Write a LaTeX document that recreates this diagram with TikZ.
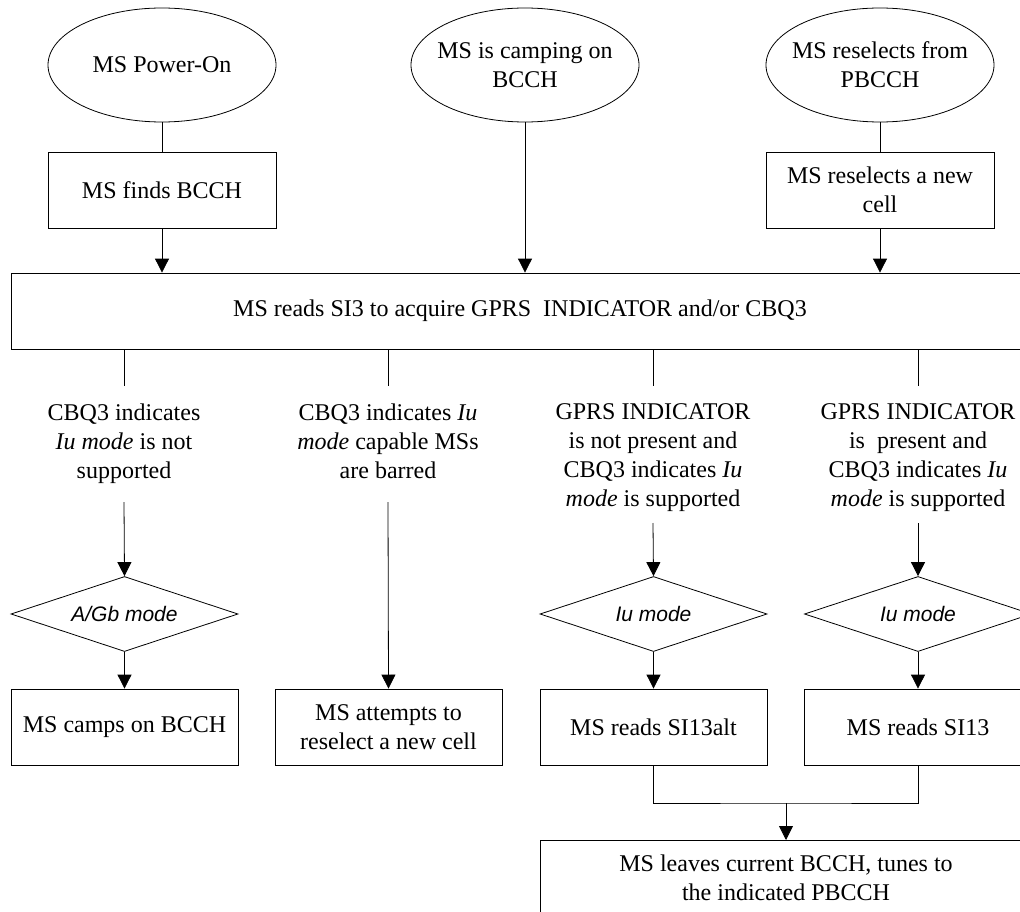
\documentclass[tikz,border=0pt]{standalone}
\usepackage{fontspec}
\setmainfont{Liberation Serif}
\newfontfamily\diafont{Liberation Sans}
\usetikzlibrary{shapes.geometric, arrows.meta}

\begin{document}
\begin{tikzpicture}[x=1pt, y=-1pt, line width=0.8pt,
    font=\fontsize{24}{29}\selectfont,
    start/.style={ellipse, draw, minimum width=228pt, minimum height=114pt, inner xsep=-8pt, inner ysep=0pt, align=center},
    box/.style={rectangle, draw, minimum width=227pt, minimum height=76pt, inner sep=0pt, align=center},
    cond/.style={anchor=north, inner xsep=0pt, inner ysep=17pt, align=center},
    mode/.style={diamond, draw, aspect=3.03, minimum width=227pt, minimum height=75pt, inner sep=0pt,
        font=\diafont\itshape\fontsize{21}{25}\selectfont},
    arr/.style={-{Triangle[length=14pt, width=14pt]}}]

    \useasboundingbox (0,0) rectangle (1020,912);
    \clip (0,0) rectangle (1020,912);

    % entry points
    \node[start] (on) at (162,65) {MS Power-On};
    \node[start] (camp) at (525,65) {MS is camping on\\BCCH};
    \node[start] (resel) at (880,65) {MS reselects from\\PBCCH};

    \node[box, minimum width=228pt] (find) at (162,190) {MS finds BCCH};
    \node[box, minimum width=228pt] (newcell) at (880,190) {MS reselects a new\\cell};

    \node[box, minimum width=1018pt] (si3) at (520,311) {MS reads SI3 to acquire GPRS\ \ INDICATOR and/or CBQ3};

    % conditions
    \node[cond] (c1) at (124,386) {CBQ3 indicates\\\textit{Iu mode} is not\\supported};
    \node[cond] (c2) at (388,386) {CBQ3 indicates \textit{Iu}\\\textit{mode} capable MSs\\are barred};
    \node[cond] (c3) at (653,386) {GPRS INDICATOR\\is not present and\\CBQ3 indicates \textit{Iu}\\\textit{mode} is supported};
    \node[cond] (c4) at (918,386) {GPRS INDICATOR\\is\ \ present and\\CBQ3 indicates \textit{Iu}\\\textit{mode} is supported};

    \coordinate (k1) at (124,502);
    \coordinate (k2) at (388,502);
    \coordinate (k3) at (653,523);
    \coordinate (k4) at (918,523);

    \node[mode] (gb) at (124.5,614) {A/Gb mode};
    \node[mode] (iu1) at (653.5,614) {Iu mode};
    \node[mode] (iu2) at (918,614) {Iu mode};

    \node[box] (camps) at (124.5,727) {MS camps on BCCH};
    \node[box] (attempt) at (388.5,727) {MS attempts to\\reselect a new cell};
    \node[box] (alt) at (653.5,727) {MS reads SI13alt};
    \node[box] (si13) at (918,727) {MS reads SI13};

    \coordinate (join) at (786,803);
    \node[box, anchor=north, minimum width=492pt, minimum height=0pt, inner ysep=14pt, text depth=40pt]
        (pbcch) at (786,840) {MS leaves current BCCH, tunes to\\the indicated PBCCH};

    % connectors
    \draw (on) -- (find);
    \draw (resel) -- (newcell);
    \draw[arr] (find) -- (find |- si3.north);
    \draw[arr] (camp) -- (camp |- si3.north);
    \draw[arr] (newcell) -- (newcell |- si3.north);

    \draw (si3.south -| c1) -- (c1.north);
    \draw (si3.south -| c2) -- (c2.north);
    \draw (si3.south -| c3) -- (c3.north);
    \draw (si3.south -| c4) -- (c4.north);

    \draw[arr] (k1) -- (gb.north);
    \draw[arr] (k2) -- (attempt.north);
    \draw[arr] (k3) -- (iu1.north);
    \draw[arr] (k4) -- (iu2.north);

    \draw[arr] (gb) -- (camps);
    \draw[arr] (iu1) -- (alt);
    \draw[arr] (iu2) -- (si13);

    \draw (alt.south) |- (join) -| (si13.south);
    \draw[arr] (join) -- (pbcch.north);

\end{tikzpicture}
\end{document}
